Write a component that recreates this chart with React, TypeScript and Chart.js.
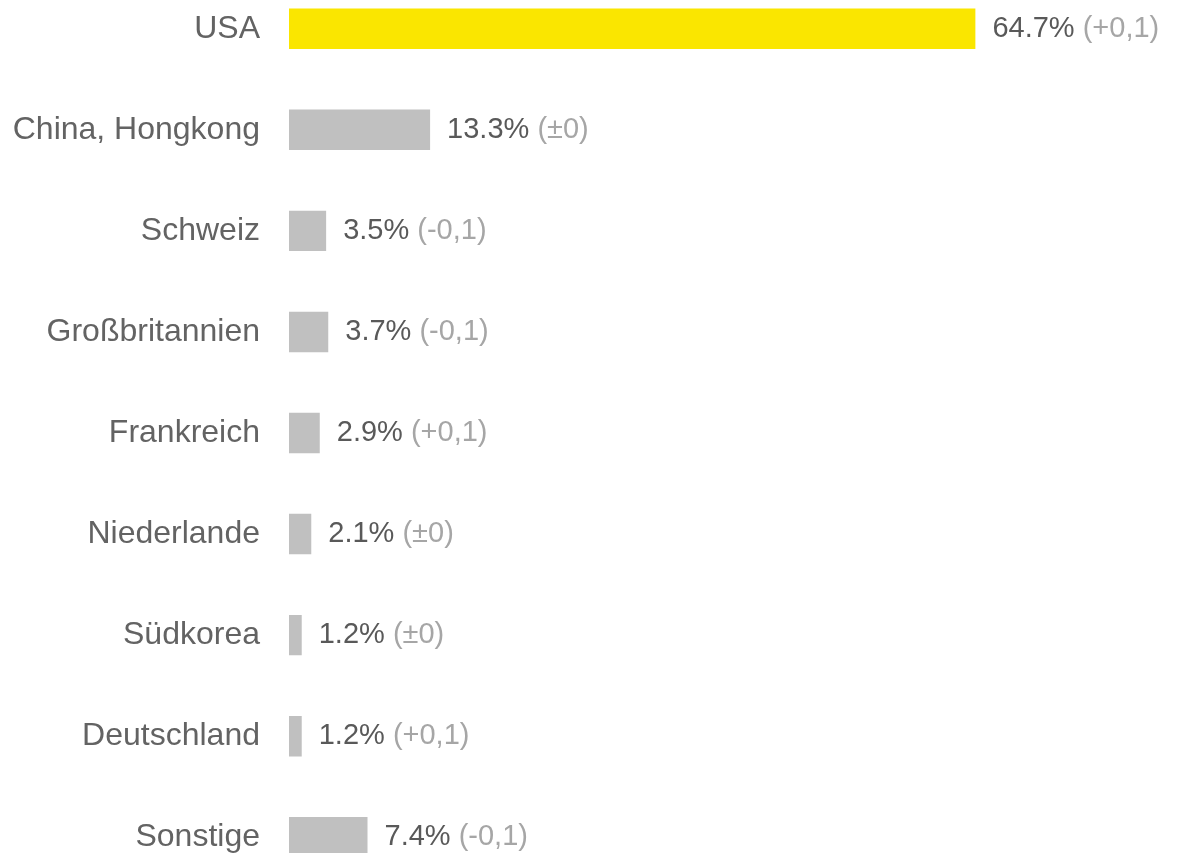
import React, { useEffect, useRef } from "react";
import { Chart, registerables } from "chart.js";

Chart.register(...registerables);

const categories = [
  "USA",
  "China, Hongkong",
  "Schweiz",
  "Großbritannien",
  "Frankreich",
  "Niederlande",
  "Südkorea",
  "Deutschland",
  "Sonstige",
];
const shares = [64.7, 13.3, 3.5, 3.7, 2.9, 2.1, 1.2, 1.2, 7.4];
const changes = ["(+0,1)", "(±0)", "(-0,1)", "(-0,1)", "(+0,1)", "(±0)", "(±0)", "(+0,1)", "(-0,1)"];
const barColors = ["#FAE600", "#C0C0C0", "#C0C0C0", "#C0C0C0", "#C0C0C0", "#C0C0C0", "#C0C0C0", "#C0C0C0", "#C0C0C0"];

const FONT = "Arial, 'Liberation Sans', sans-serif";

const valueLabels = {
  id: "valueLabels",
  afterDatasetsDraw(chart: any) {
    const ctx = chart.ctx;
    const meta = chart.getDatasetMeta(0);
    ctx.save();
    ctx.font = `29px ${FONT}`;
    ctx.textBaseline = "middle";
    ctx.textAlign = "left";
    meta.data.forEach((bar: any, i: number) => {
      const main = `${shares[i].toFixed(1)}%`;
      const x = bar.x + 17;
      const y = bar.y;
      ctx.fillStyle = "#595959";
      ctx.fillText(main, x, y);
      const w = ctx.measureText(main + " ").width;
      ctx.fillStyle = "#A6A6A6";
      ctx.fillText(changes[i], x + w, y);
    });
    ctx.restore();
  },
};

export default function App() {
  const ref = useRef<HTMLCanvasElement | null>(null);
  useEffect(() => {
    if (!ref.current) return;
    const chart = new Chart(ref.current, {
      type: "bar",
      data: {
        labels: categories,
        datasets: [
          {
            data: shares,
            backgroundColor: barColors,
            borderWidth: 0,
            categoryPercentage: 1,
            barPercentage: 0.4,
          },
        ],
      },
      options: {
        indexAxis: "y",
        animation: false,
        responsive: true,
        maintainAspectRatio: false,
        layout: { padding: 0 },
        plugins: { legend: { display: false }, tooltip: { enabled: false } },
        scales: {
          x: { display: false, min: 0, max: 83.8 },
          y: {
            offset: true,
            grid: { display: false, drawTicks: false },
            border: { display: false },
            ticks: {
              padding: 29,
              color: "#636363",
              font: { family: FONT, size: 32 },
            },
            afterFit: (scale: any) => {
              scale.width = 289;
            },
          },
        },
      },
      plugins: [valueLabels],
    });
    return () => chart.destroy();
  }, []);
  return (
    <div style={{ position: "fixed", left: 0, top: 0, width: 1178, height: 853, overflow: "hidden", background: "#fff" }}>
      <div style={{ position: "absolute", left: 0, top: -70, width: 1178, height: 1006 }}>
        <canvas ref={ref} />
      </div>
    </div>
  );
}
